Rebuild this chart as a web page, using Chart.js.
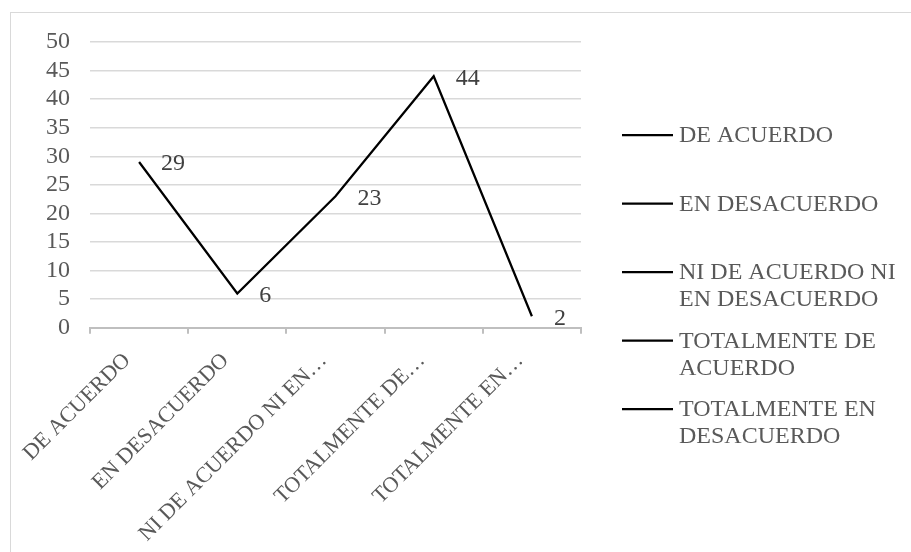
<!DOCTYPE html>
<html lang="es">
<head>
  <meta charset="UTF-8">
  <title>Grafico de respuestas</title>
  <script src="https://cdn.jsdelivr.net/npm/chart.js"></script>
  <style>
    html, body { margin: 0; padding: 0; background: #fff; overflow: hidden; }
    #marco {
      position: absolute; left: 10px; top: 12px; width: 940px; height: 600px;
      border: 1.5px solid #d9d9d9; box-sizing: border-box;
    }
    #grafico { position: absolute; left: 0; top: 0; }
  </style>
</head>
<body>
  <div id="marco"></div>
  <canvas id="grafico" width="911" height="561"></canvas>

  <script>
    // Datos del grafico
    var categorias = ['DE ACUERDO', 'EN DESACUERDO', 'NI DE ACUERDO NI EN DESACUERDO', 'TOTALMENTE DE ACUERDO', 'TOTALMENTE EN DESACUERDO'];
    var etiquetasEje = ['DE ACUERDO', 'EN DESACUERDO', 'NI DE ACUERDO NI EN…', 'TOTALMENTE DE…', 'TOTALMENTE EN…'];
    var valores = [29, 6, 23, 44, 2];
    var pasoY = 5;

    var fuente = '"Liberation Serif", "Times New Roman", serif';

    // Etiquetas de datos a la derecha de cada punto
    var etiquetasDatos = {
      id: 'etiquetasDatos',
      afterDatasetsDraw: function (chart) {
        var ctx = chart.ctx;
        var meta = chart.getDatasetMeta(0);
        ctx.save();
        ctx.font = '24px ' + fuente;
        ctx.fillStyle = '#404040';
        ctx.textAlign = 'left';
        ctx.textBaseline = 'middle';
        meta.data.forEach(function (p, i) {
          ctx.fillText(String(valores[i]), p.x + 22, p.y + 2);
        });
        ctx.restore();
      }
    };

    // Leyenda a la derecha (una entrada por categoria)
    var leyenda = {
      id: 'leyenda',
      afterDraw: function (chart) {
        var ctx = chart.ctx;
        ctx.save();
        ctx.font = '24px ' + fuente;
        ctx.textBaseline = 'middle';
        var x0 = 622, y = 135, anchoMax = 228, alto = 27;
        categorias.forEach(function (cat) {
          // partir texto en lineas
          var palabras = cat.split(' '), lineas = [], actual = '';
          palabras.forEach(function (w) {
            var prueba = actual ? actual + ' ' + w : w;
            if (ctx.measureText(prueba).width > anchoMax && actual) {
              lineas.push(actual); actual = w;
            } else {
              actual = prueba;
            }
          });
          lineas.push(actual);

          ctx.strokeStyle = '#000';
          ctx.lineWidth = 2.25;
          ctx.beginPath();
          ctx.moveTo(x0, y);
          ctx.lineTo(x0 + 51, y);
          ctx.stroke();

          ctx.fillStyle = '#595959';
          lineas.forEach(function (l, k) {
            ctx.fillText(l, x0 + 57, y + 1 + k * alto);
          });
          y += 68.5;
        });
        ctx.restore();
      }
    };

    var grafico = new Chart(document.getElementById('grafico'), {
      type: 'line',
      data: {
        labels: categorias,
        datasets: [{
          label: 'Respuestas',
          data: valores,
          borderColor: '#000',
          borderWidth: 2.25,
          pointRadius: 0,
          tension: 0,
          fill: false
        }]
      },
      options: {
        responsive: false,
        animation: false,
        layout: { padding: { left: 26, top: 42, right: 330, bottom: 0 } },
        plugins: {
          legend: { display: false },
          tooltip: { enabled: false }
        },
        scales: {
          x: {
            offset: true,
            grid: {
              offset: true,
              drawOnChartArea: false,
              drawTicks: true,
              tickLength: 6,
              color: '#bfbfbf',
              lineWidth: 2
            },
            border: { color: '#bfbfbf', width: 2 },
            ticks: {
              autoSkip: false,
              minRotation: 45,
              maxRotation: 45,
              padding: 14,
              labelOffset: -12,
              color: '#595959',
              font: { family: fuente, size: 22 },
              callback: function (v, i) { return etiquetasEje[i]; }
            }
          },
          y: {
            min: 0,
            max: 50,
            grid: { color: '#d9d9d9', lineWidth: 1.5, drawTicks: false },
            border: { display: false },
            ticks: {
              stepSize: pasoY,
              autoSkip: false,
              padding: 20,
              color: '#595959',
              font: { family: fuente, size: 24 }
            }
          }
        }
      },
      plugins: [etiquetasDatos, leyenda]
    });
  </script>
</body>
</html>
